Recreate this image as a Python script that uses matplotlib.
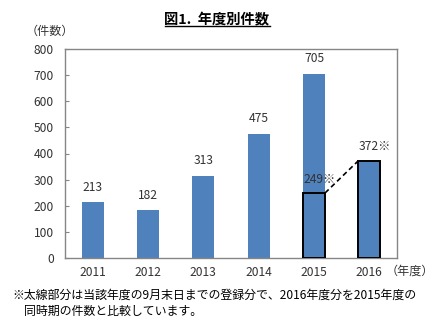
import numpy as np
import matplotlib
matplotlib.use("Agg")
import matplotlib.pyplot as plt
from matplotlib.lines import Line2D

plt.rcParams['font.family'] = ['Noto Sans CJK JP', 'DejaVu Sans']

# data
years = ['2011', '2012', '2013', '2014', '2015', '2016']
counts = [213, 182, 313, 475, 705, 372]
partial_2015 = 249          # same period (to end of Sept) in 2015
title = '図1.  年度別件数'
y_unit = '（件数）'
x_unit = '（年度）'
note_1 = '※太線部分は当該年度の9月末日までの登録分で、2016年度分を2015年度の'
note_2 = '同時期の件数と比較しています。'

bar_color = '#4F81BD'
axis_gray = '#868686'
text_col = '#333333'
W, H = 434, 326

fig = plt.figure(figsize=(W / 100, H / 100), dpi=100)
ax = fig.add_axes([65 / W, 1 - 258 / H, (397 - 65) / W, (258 - 49) / H])

x = np.arange(len(years))
bw = 0.4
ax.bar(x[:5], counts[:5], width=bw, color=bar_color, zorder=2)
# 2016 bar with a heavy outline
ax.bar(x[5], counts[5], width=bw, color=bar_color, edgecolor='black',
       linewidth=1.4, zorder=3)
# outlined part of 2015 for the same period
ax.bar(x[4], partial_2015, width=bw, color='none', edgecolor='black',
       linewidth=1.4, zorder=3)

# dashed link between the two comparable values
ax.plot([x[4] + bw / 2, x[5] - bw / 2], [partial_2015, counts[5]],
        ls=(0, (3, 2)), color='black', lw=1.2, zorder=4)

for i in range(5):
    ax.annotate(str(counts[i]), (x[i], counts[i]), xytext=(0, 11),
                textcoords='offset points', ha='center', va='center',
                fontsize=8.7, color=text_col)
ax.annotate(f'{partial_2015}※', (x[4] + 0.1, partial_2015), xytext=(0, 10),
            textcoords='offset points', ha='center', va='center',
            fontsize=8.7, color=text_col)
ax.annotate(f'{counts[5]}※', (x[5] + 0.1, counts[5]), xytext=(0, 10),
            textcoords='offset points', ha='center', va='center',
            fontsize=8.7, color=text_col)

ax.set_xlim(-0.5, 5.5)
ax.set_ylim(0, 800)
ax.set_yticks(np.arange(0, 801, 100))
ax.set_xticks(x)
ax.set_xticklabels(years)
ax.tick_params(axis='y', direction='in', length=3, color=axis_gray,
               labelsize=8.7, pad=8, labelcolor=text_col)
ax.tick_params(axis='x', length=0, labelsize=8.7, pad=6, labelcolor=text_col)
for sp in ax.spines.values():
    sp.set_color(axis_gray)
    sp.set_linewidth(1.0)

# titles and notes
t = fig.text(217 / W, 1 - 20 / H, title, ha='center', va='center',
             fontsize=10.3, fontweight='bold')
fig.canvas.draw()
bb = t.get_window_extent().transformed(fig.transFigure.inverted())
fig.add_artist(Line2D([bb.x0, bb.x1], [bb.y0 + 0.004, bb.y0 + 0.004],
                      transform=fig.transFigure, color='black', lw=1))

fig.text(26 / W, 1 - 31 / H, y_unit, ha='left', va='center', fontsize=8.7,
         color=text_col)
fig.text(386 / W, 1 - 271 / H, x_unit, ha='left', va='center', fontsize=8.7,
         color=text_col)
fig.text(12 / W, 1 - 295 / H, note_1, ha='left', va='center', fontsize=8.6)
fig.text(24 / W, 1 - 311 / H, note_2, ha='left', va='center', fontsize=8.6)

fig.savefig('out.png', dpi=100)
